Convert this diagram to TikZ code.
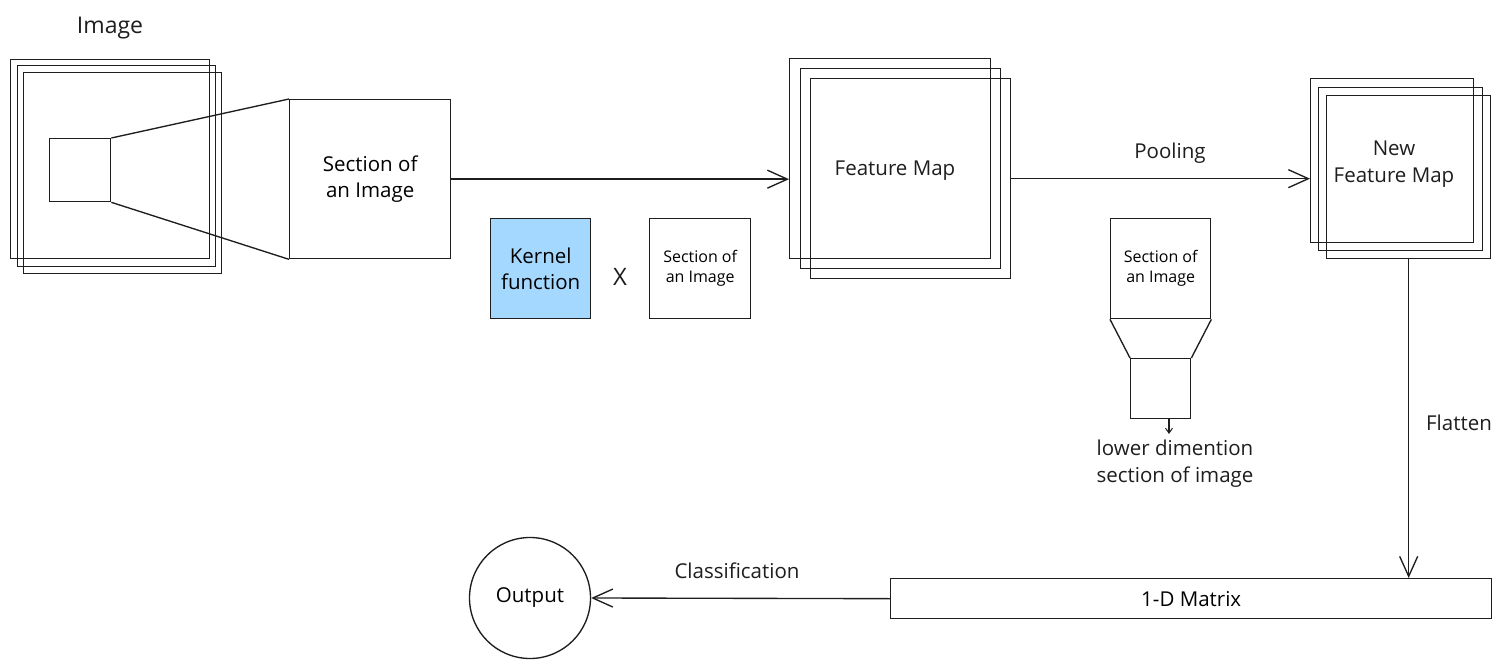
\documentclass[tikz,border=0pt]{standalone}
\usepackage{fontspec}
\setmainfont{Open Sans}
\usetikzlibrary{arrows.meta}
\definecolor{ink}{HTML}{1E1E1E}
\definecolor{kfill}{HTML}{A5D8FF}
\tikzset{
  box/.style={draw=ink, line width=1.35pt, inner sep=0pt, rectangle, anchor=north west, align=center, font=\fontsize{20.5}{26}\selectfont},
  smallbox/.style={box, font=\fontsize{16}{20}\selectfont},
  lbl/.style={text=ink, inner sep=0pt, align=center, font=\fontsize{20.5}{27}\selectfont},
  conn/.style={draw=ink, line width=1.35pt},
  arr/.style={conn, -{Straight Barb[length=20pt,width=18pt,line width=1.35pt]}},
  smallarr/.style={conn, -{Straight Barb[length=5pt,width=7pt,line width=1pt]}}
}
\begin{document}
\begin{tikzpicture}[x=1pt,y=-1pt]
\useasboundingbox (0,0) rectangle (1506,668);
% Image stack
\node[lbl, font=\fontsize{23}{28}\selectfont] (imglbl) at (110,28) {Image};
\node[box, minimum width=199.5pt, minimum height=199pt] (img1) at (9.5,59) {};
\node[box, minimum width=198pt, minimum height=201pt] (img2) at (17,65) {};
\node[box, minimum width=198pt, minimum height=201pt] (img3) at (23,72) {};
\node[box, minimum width=61pt, minimum height=63pt] (sq) at (49,138) {};
% Section of an image
\node[box, minimum width=161pt, minimum height=159pt] (sec) at (289,99) {Section of\\an Image};
\draw[conn] (sq.north east) -- (sec.north west);
\draw[conn] (sq.south east) -- (sec.south west);
% Kernel x section
\node[box, fill=kfill, minimum width=100pt, minimum height=100pt] (kern) at (490,218) {Kernel\\function};
\node[lbl, font=\fontsize{24}{28}\selectfont] (times) at (620,277) {X};
\node[smallbox, minimum width=101pt, minimum height=100pt] (sec2) at (649,218) {Section of\\an Image};
% Feature map stack
\node[box, minimum width=201pt, minimum height=200pt] (fm1) at (789,58) {};
\node[box, minimum width=200pt, minimum height=200pt] (fm2) at (800,68) {};
\node[box, minimum width=200pt, minimum height=200pt] (fm3) at (810,78) {};
\node[lbl] (fmtext) at (895,171) {Feature Map};
\draw[arr] (sec.east) -- (sec.east -| fm1.west);
% New feature map stack
\node[box, minimum width=163pt, minimum height=164pt] (nfm1) at (1310,78) {};
\node[box, minimum width=164pt, minimum height=163pt] (nfm2) at (1318,87) {};
\node[box, minimum width=164pt, minimum height=163pt] (nfm3) at (1326,95) {};
\node[lbl] (nfmtext) at (1394,164) {New\\Feature Map};
\draw[arr] (fm3.east) -- (fm3.east -| nfm1.west);
\node[lbl] (pool) at (1170,153) {Pooling};
% Pooling illustration
\node[smallbox, minimum width=100pt, minimum height=100pt] (psec) at (1110,218) {Section of\\an Image};
\node[box, minimum width=60pt, minimum height=60pt] (pm) at (1130,358) {};
\draw[conn] (psec.south west) -- (pm.north west);
\draw[conn] (psec.south east) -- (pm.north east);
\coordinate (pmend) at (1169,434);
\draw[smallarr] (pm.south -| pmend) -- (pmend);
\node[lbl] (lowlbl) at (1175,464) {lower dimention\\section of image};
% 1-D matrix
\node[box, minimum width=601pt, minimum height=40pt] (mat) at (890,578) {1-D Matrix};
\draw[arr] (nfm3.south) -- (nfm3.south |- mat.north);
\node[lbl] (flat) at (1459,423) {Flatten};
% Output
\node[draw=ink, line width=1.35pt, circle, minimum size=121pt, inner sep=0pt, font=\fontsize{20.5}{26}\selectfont] (out) at (530,598) {Output};
\draw[arr] (mat.west) -- (out.east);
\node[lbl] (cls) at (737,571) {Classification};
\end{tikzpicture}
\end{document}
